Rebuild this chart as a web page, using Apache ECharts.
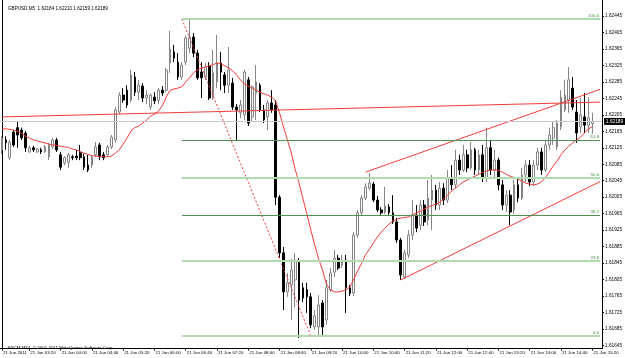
<!DOCTYPE html>
<html><head><meta charset="utf-8">
<script src="https://cdn.jsdelivr.net/npm/echarts@6/dist/echarts.min.js"></script>
<style>html,body{margin:0;padding:0;background:#fff}#c{width:625px;height:358px}</style>
</head><body><div id="c"></div>
<script>
// ---- data (GBPUSD M5, 21 Jun 2011) ----
const opens = [1.62120,1.62144,1.62101,1.62163,1.62174,1.62168,1.62161,1.62115,1.62125,1.62115,
1.62120,1.62115,1.62103,1.62127,1.62144,1.62108,1.62088,1.62090,1.62103,1.62105,
1.62113,1.62103,1.62083,1.62083,1.62108,1.62132,1.62108,1.62108,1.62127,1.62144,
1.62212,1.62253,1.62265,1.62241,1.62297,1.62260,1.62275,1.62246,1.62224,1.62248,
1.62241,1.62265,1.62265,1.62331,1.62358,1.62333,1.62297,1.62333,1.62367,1.62394,
1.62355,1.62309,1.62297,1.62324,1.62248,1.62285,1.62331,1.62302,1.62277,1.62282,
1.62224,1.62210,1.62205,1.62290,1.62200,1.62258,1.62277,1.62217,1.62200,1.62234,
1.62229,1.62005,1.61870,1.61775,1.61792,1.61804,1.61847,1.61785,1.61780,1.61763,
1.61690,1.61690,1.61748,1.61707,1.61780,1.61823,1.61857,1.61840,1.61852,1.61785,
1.61772,1.61913,1.61967,1.62003,1.62027,1.62037,1.61998,1.61974,1.61969,1.61981,
1.61967,1.61945,1.61901,1.61811,1.61865,1.61913,1.61962,1.61937,1.61986,1.61950,
1.61998,1.62022,1.61986,1.62027,1.61998,1.62052,1.62035,1.62095,1.62071,1.62108,
1.62076,1.62120,1.62071,1.62108,1.62052,1.62125,1.62071,1.62095,1.62035,1.61986,
1.62010,1.61974,1.62035,1.62003,1.62059,1.62083,1.62042,1.62083,1.62115,1.62071,
1.62132,1.62149,1.62127,1.62176,1.62217,1.62241,1.62270,1.62212,1.62176,1.62200,
1.62180,1.62184];
const closes = [1.62149,1.62137,1.62139,1.62132,1.62156,1.62149,1.62125,1.62125,1.62120,1.62122,
1.62115,1.62127,1.62132,1.62144,1.62120,1.62078,1.62101,1.62108,1.62101,1.62101,
1.62101,1.62078,1.62071,1.62103,1.62127,1.62103,1.62101,1.62127,1.62151,1.62217,
1.62253,1.62241,1.62229,1.62302,1.62260,1.62277,1.62246,1.62253,1.62253,1.62239,
1.62265,1.62258,1.62314,1.62365,1.62343,1.62297,1.62326,1.62392,1.62394,1.62355,
1.62295,1.62295,1.62321,1.62246,1.62307,1.62331,1.62309,1.62277,1.62314,1.62224,
1.62217,1.62229,1.62309,1.62185,1.62273,1.62285,1.62217,1.62193,1.62234,1.62217,
1.62005,1.61870,1.61775,1.61797,1.61828,1.61852,1.61755,1.61760,1.61763,1.61695,
1.61717,1.61743,1.61690,1.61785,1.61821,1.61857,1.61833,1.61852,1.61785,1.61772,
1.61913,1.61967,1.62003,1.62030,1.62039,1.61998,1.61974,1.61967,1.61984,1.61967,
1.61945,1.61901,1.61816,1.61870,1.61913,1.61962,1.61930,1.61986,1.61945,1.62003,
1.62022,1.61986,1.62027,1.61998,1.62052,1.62035,1.62095,1.62071,1.62108,1.62076,
1.62120,1.62071,1.62108,1.62052,1.62125,1.62071,1.62095,1.62035,1.61986,1.62010,
1.61969,1.62035,1.62003,1.62059,1.62083,1.62042,1.62083,1.62115,1.62071,1.62132,
1.62156,1.62174,1.62185,1.62248,1.62253,1.62290,1.62224,1.62161,1.62205,1.62180,
1.62198,1.62189];
const lows = [1.62110,1.62120,1.62095,1.62127,1.62125,1.62144,1.62115,1.62113,1.62115,1.62113,
1.62110,1.62113,1.62095,1.62122,1.62115,1.62071,1.62083,1.62076,1.62095,1.62095,
1.62095,1.62071,1.62066,1.62076,1.62103,1.62095,1.62095,1.62103,1.62122,1.62137,
1.62207,1.62234,1.62222,1.62236,1.62251,1.62241,1.62236,1.62231,1.62217,1.62231,
1.62231,1.62251,1.62260,1.62307,1.62333,1.62290,1.62290,1.62326,1.62355,1.62345,
1.62290,1.62246,1.62290,1.62241,1.62241,1.62270,1.62265,1.62258,1.62258,1.62217,
1.62144,1.62197,1.62193,1.62178,1.62188,1.62193,1.62212,1.62185,1.62168,1.62210,
1.61986,1.61857,1.61731,1.61763,1.61707,1.61738,1.61663,1.61750,1.61724,1.61687,
1.61683,1.61670,1.61670,1.61695,1.61775,1.61811,1.61828,1.61833,1.61724,1.61765,
1.61765,1.61906,1.61960,1.61998,1.62022,1.61993,1.61969,1.61962,1.61964,1.61962,
1.61940,1.61894,1.61804,1.61806,1.61857,1.61901,1.61920,1.61925,1.61935,1.61937,
1.61925,1.61974,1.61974,1.61986,1.61991,1.62022,1.62027,1.62059,1.62066,1.62066,
1.62071,1.62059,1.62059,1.62042,1.62042,1.62059,1.62052,1.62022,1.61974,1.61969,
1.61937,1.61964,1.61993,1.61998,1.62042,1.62032,1.62032,1.62071,1.62059,1.62066,
1.62120,1.62132,1.62120,1.62168,1.62212,1.62210,1.62217,1.62137,1.62161,1.62161,
1.62161,1.62159];
const highs = [1.62153,1.62153,1.62144,1.62168,1.62188,1.62174,1.62166,1.62130,1.62130,1.62125,
1.62125,1.62132,1.62137,1.62149,1.62149,1.62115,1.62105,1.62113,1.62108,1.62120,
1.62132,1.62110,1.62108,1.62105,1.62139,1.62137,1.62115,1.62132,1.62156,1.62224,
1.62260,1.62270,1.62277,1.62314,1.62309,1.62290,1.62282,1.62265,1.62258,1.62260,
1.62270,1.62275,1.62319,1.62409,1.62375,1.62355,1.62333,1.62397,1.62438,1.62404,
1.62363,1.62333,1.62331,1.62333,1.62363,1.62399,1.62358,1.62309,1.62370,1.62295,
1.62231,1.62241,1.62314,1.62297,1.62277,1.62326,1.62282,1.62229,1.62241,1.62265,
1.62241,1.62010,1.61884,1.61821,1.61855,1.61869,1.61857,1.61797,1.61797,1.61772,
1.61731,1.61767,1.61755,1.61804,1.61833,1.61877,1.61865,1.61865,1.61865,1.61792,
1.61920,1.61974,1.62010,1.62039,1.62063,1.62042,1.62008,1.61981,1.62030,1.61988,
1.62010,1.61955,1.61906,1.61877,1.61925,1.61998,1.61986,1.61998,1.61998,1.62047,
1.62059,1.62035,1.62042,1.62039,1.62071,1.62083,1.62120,1.62108,1.62132,1.62120,
1.62139,1.62125,1.62120,1.62132,1.62174,1.62144,1.62120,1.62101,1.62047,1.62022,
1.62022,1.62047,1.62052,1.62076,1.62095,1.62095,1.62095,1.62125,1.62125,1.62144,
1.62174,1.62188,1.62193,1.62265,1.62290,1.62321,1.62297,1.62241,1.62246,1.62258,
1.62248,1.62210];
const maValues = [1.62171,1.62171,1.62170,1.62168,1.62165,1.62160,1.62153,1.62149,1.62144,1.62142,
1.62139,1.62137,1.62134,1.62132,1.62131,1.62129,1.62127,1.62126,1.62122,1.62120,
1.62116,1.62112,1.62109,1.62106,1.62105,1.62104,1.62103,1.62103,1.62105,1.62112,
1.62120,1.62134,1.62149,1.62166,1.62174,1.62178,1.62185,1.62193,1.62202,1.62207,
1.62214,1.62227,1.62248,1.62265,1.62268,1.62270,1.62273,1.62285,1.62295,1.62307,
1.62314,1.62319,1.62321,1.62324,1.62327,1.62331,1.62329,1.62324,1.62319,1.62312,
1.62302,1.62290,1.62280,1.62275,1.62270,1.62265,1.62260,1.62256,1.62253,1.62248,
1.62239,1.62210,1.62176,1.62144,1.62113,1.62073,1.62039,1.62001,1.61964,1.61925,
1.61889,1.61855,1.61828,1.61794,1.61780,1.61775,1.61775,1.61777,1.61780,1.61787,
1.61806,1.61826,1.61845,1.61865,1.61879,1.61894,1.61908,1.61920,1.61930,1.61940,
1.61947,1.61952,1.61954,1.61956,1.61957,1.61962,1.61967,1.61971,1.61976,1.61981,
1.61985,1.61988,1.61993,1.62001,1.62010,1.62020,1.62027,1.62035,1.62042,1.62047,
1.62052,1.62056,1.62061,1.62066,1.62069,1.62071,1.62071,1.62070,1.62066,1.62061,
1.62056,1.62053,1.62049,1.62044,1.62039,1.62037,1.62035,1.62037,1.62042,1.62052,
1.62066,1.62081,1.62093,1.62108,1.62120,1.62129,1.62137,1.62144,1.62151,1.62161,
1.62171,1.62176];

const yTicks = [1.61645,1.61685,1.61725,1.61765,1.61805,1.61845,1.61885,1.61925,1.61965,1.62005,
1.62045,1.62085,1.62125,1.62165,1.62205,1.62245,1.62285,1.62325,1.62365,1.62405,1.62445];
const xTickTimes = ['02:45','03:20','04:00','04:40','05:20','06:00','06:40','07:20','08:00','08:40',
'09:20','10:00','10:40','11:20','12:00','12:40','13:20','14:00','14:40','15:20'];
const xTickTexts = ['21 Jun 2011','21 Jun 03:20','21 Jun 04:00','21 Jun 04:40','21 Jun 05:20','21 Jun 06:00',
'21 Jun 06:40','21 Jun 07:20','21 Jun 08:00','21 Jun 08:40','21 Jun 09:20','21 Jun 10:00','21 Jun 10:40',
'21 Jun 11:20','21 Jun 12:00','21 Jun 12:40','21 Jun 13:20','21 Jun 14:00','21 Jun 14:40','21 Jun 15:20'];

const fibNames  = ['100.0','61.8','50.0','38.2','23.6','0.0'];
const fibPrices = [1.62438,1.62144,1.62053,1.61962,1.61850,1.61668];
const fibStart = '06:35', fibLowTime = '09:20', chartEnd = '15:30';
const hLine = [['02:45',1.62200],['15:30',1.62236]];
const chanUpper = [['10:30',1.62066],['15:30',1.62267]];
const chanLower = [['11:15',1.61804],['15:30',1.62043]];
const bidPrice = 1.62189;
const titleText = 'GBPUSD,M5  1.62184 1.62210 1.62159 1.62189';
const copyText = 'FXCM MT4, \u00a9 2001-2011 MetaQuotes Software Corp.';

// category axis: one slot per 5-minute bar, plus two empty slots on the right
const categories = [];
for (let m = 2*60+45; m <= 15*60+30; m += 5) {
  categories.push(String(Math.floor(m/60)).padStart(2,'0') + ':' + String(m%60).padStart(2,'0'));
}
const candleData = opens.map((o,i)=>[o, closes[i], lows[i], highs[i]]);
const maData = maValues.map((v,i)=>[categories[i], v]);

const FONT = 'Liberation Sans';
const FS = 4.4;
const fibLight = '#b0dab0', fibDark = '#4f8f4f';

const chart = echarts.init(document.getElementById('c'), null, {renderer:'canvas'});
chart.setOption({
  animation:false,
  backgroundColor:'#ffffff',
  title:[
    {text:titleText, left:3, top:1, textStyle:{fontSize:FS+0.2, fontWeight:'normal', color:'#000', fontFamily:FONT}},
    {text:copyText, left:3, top:341, textStyle:{fontSize:FS, fontWeight:'normal', color:'#000', fontFamily:FONT}}
  ],
  grid:{left:0, top:0, width:606, height:348.5, containLabel:false},
  xAxis:{
    type:'category', data:categories, boundaryGap:true,
    axisLine:{show:true, lineStyle:{color:'#000', width:1}},
    axisTick:{show:true, alignWithLabel:true, length:2, lineStyle:{color:'#000'},
      interval:(i,v)=>xTickTimes.indexOf(v)>=0},
    axisLabel:{interval:(i,v)=>xTickTimes.indexOf(v)>=0,
      formatter:(v)=>xTickTexts[xTickTimes.indexOf(v)],
      fontSize:FS, fontFamily:FONT, color:'#000', align:'left', margin:2, padding:[0,0,0,1]},
    splitLine:{show:false}
  },
  yAxis:[{
    type:'value', position:'right', min:1.616375, max:1.62484, scale:true,
    axisLine:{show:true, lineStyle:{color:'#000', width:1}},
    axisTick:{show:true, length:2, customValues:yTicks, lineStyle:{color:'#000'}},
    axisLabel:{customValues:yTicks, formatter:(v)=>v.toFixed(5), fontSize:FS+0.3, fontFamily:FONT, color:'#000', margin:3},
    splitLine:{show:false}
  },{
    type:'value', position:'left', offset:-2, min:1.616375, max:1.62484,
    axisLine:{show:true, lineStyle:{color:'#000', width:1}},
    axisTick:{show:false}, axisLabel:{show:false}, splitLine:{show:false}
  }],
  series:[
    {
      type:'candlestick', data:candleData, barWidth:2.2,
      itemStyle:{color:'#ffffff', color0:'#000000', borderColor:'#858585', borderColor0:'#000000', borderWidth:1},
      markLine:{
        silent:true, symbol:['none','none'], animation:false, precision:5,
        data: fibPrices.map((p,k)=>[
          {coord:[fibStart, p],
           lineStyle:{color:(k===1||k===3)?fibDark:fibLight, width:(k===1||k===3)?1:2, type:'solid'},
           label:{show:true, position:'insideEndTop', formatter:fibNames[k], color:'#3f8f3f', fontSize:FS, fontFamily:FONT, distance:1}},
          {coord:[chartEnd, p]}
        ]).concat([{
          yAxis:bidPrice,
          lineStyle:{color:'#c8c8c8', width:1, type:'solid'},
          label:{show:true, position:'end', formatter:bidPrice.toFixed(5), backgroundColor:'#000', color:'#fff',
                 fontSize:FS+0.3, fontFamily:FONT, padding:[1,2,1,2], distance:2}
        }])
      }
    },
    {type:'line', data:maData, showSymbol:false, symbol:'none', lineStyle:{color:'#f03c3c', width:1}, z:3},
    {type:'line', data:[[fibStart, fibPrices[0]],[fibLowTime, fibPrices[5]]], showSymbol:false, symbol:'none',
      lineStyle:{color:'#f03c3c', width:1, type:[2,2]}, z:3},
    {type:'line', data:hLine, showSymbol:false, symbol:'none', lineStyle:{color:'#f03c3c', width:1}, z:3},
    {type:'line', data:chanUpper, showSymbol:false, symbol:'none', lineStyle:{color:'#f03c3c', width:1}, z:3},
    {type:'line', data:chanLower, showSymbol:false, symbol:'none', lineStyle:{color:'#f03c3c', width:1}, z:3}
  ]
});
</script>
</body></html>
